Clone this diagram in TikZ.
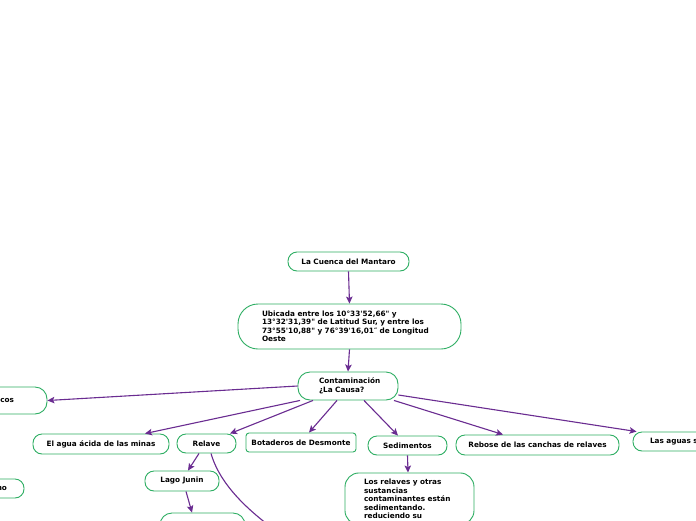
\documentclass[tikz,border=0pt]{standalone}
\usepackage{fontspec}
\newfontfamily\vf{DejaVu Sans}
\usetikzlibrary{arrows.meta}
\definecolor{grn}{HTML}{2EAE63}
\definecolor{pur}{HTML}{6A2C91}
\begin{document}
\begin{tikzpicture}[x=1pt,y=-1pt,
  box/.style={draw=grn, line width=0.9pt, fill=white, rounded corners=9pt,
    font=\vf\bfseries\fontsize{7.3}{8.5}\selectfont, inner sep=0pt,
    minimum height=19pt, text=black},
  arr/.style={draw=pur, line width=1.1pt, -{Stealth[length=7pt,width=6.5pt,inset=1.5pt]}},
  curv/.style={draw=pur, line width=1.1pt}]
\useasboundingbox (0,0) rectangle (696,520);
\fill[white] (0,0) rectangle (696,520);
\clip (0,0) rectangle (696,520);

\node[box, minimum width=121pt] (cuenca) at (348.5,261.5) {La Cuenca del Mantaro};
\node[box, rounded corners=20pt, minimum height=45pt, text width=175pt, inner xsep=24pt, align=left] (ubic) at (349.5,326.5)
  {Ubicada entre los 10°33'52,66" y\\13°32'31,39" de Latitud Sur, y entre los\\73°55'10,88" y 76°39'16,01″ de Longitud\\Oeste};
\node[box, rounded corners=12pt, minimum height=28pt, text width=58pt, inner xsep=21pt, align=left] (cont) at (348,386)
  {Contaminación\\¿La Causa?};
\node[box, rounded corners=12pt, minimum height=27pt, text width=61pt, inner xsep=33pt, align=right] (lft) at (-16.5,400.5) {ecos};
\node[box, minimum width=136pt, minimum height=20pt] (agua) at (101,444) {El agua ácida de las minas};
\node[box, minimum width=59pt] (relave) at (206.5,443.5) {Relave};
\node[box, rounded corners=3pt, minimum width=110pt] (bot) at (301,442.5) {Botaderos de Desmonte};
\node[box, minimum width=79pt] (sed) at (407.5,445.5) {Sedimentos};
\node[box, minimum width=163pt, minimum height=20pt] (reb) at (537.5,445) {Rebose de las canchas de relaves};
\node[box, text width=113pt, inner xsep=17pt, align=left] (aguas) at (706.5,441.5) {Las aguas s};
\node[box, text width=50pt, inner xsep=17pt, align=right] (no) at (-18,488.5) {no};
\node[box, minimum width=74pt, minimum height=20pt] (lago) at (182,481) {Lago Junin};
\node[box, rounded corners=12pt, minimum width=85pt, minimum height=34pt] (lagoc) at (202.5,530) {};
\node[box, rounded corners=14pt, text width=91pt, inner xsep=19pt, inner ysep=6pt, align=left, anchor=north] (sedc) at (409.5,472.5)
  {Los relaves y otras\\sustancias\\contaminantes están\\sedimentando.\\reduciendo su};
\coordinate (curveend) at (275,530);

\draw[arr] (cuenca.south) -- (ubic.north);
\draw[arr] (ubic.south) -- (cont.north);
\draw[arr] (cont.west) -- (lft.east);
\draw[arr] ([xshift=-48pt]cont.south) -- ([xshift=44pt]agua.north);
\draw[arr] ([xshift=-35pt]cont.south) -- ([xshift=23.5pt]relave.north);
\draw[arr] ([xshift=-11pt]cont.south) -- ([xshift=8pt]bot.north);
\draw[arr] ([xshift=16pt]cont.south) -- ([xshift=-9.5pt]sed.north);
\draw[arr] ([xshift=46pt]cont.south) -- ([xshift=-34.5pt]reb.north);
\draw[arr] ([yshift=-9pt]cont.east) -- ([xshift=4pt]aguas.north west);
\draw[arr] ([xshift=-7.5pt]relave.south) -- ([xshift=6pt]lago.north);
\draw[arr] ([xshift=4pt]lago.south) -- ([xshift=-10.5pt]lagoc.north);
\draw[arr] (sed.south) -- ([xshift=-1.5pt]sedc.north);
\draw[curv] ([xshift=4.5pt]relave.south) .. controls (218,478) and (238,503) .. (curveend);
\end{tikzpicture}
\end{document}
